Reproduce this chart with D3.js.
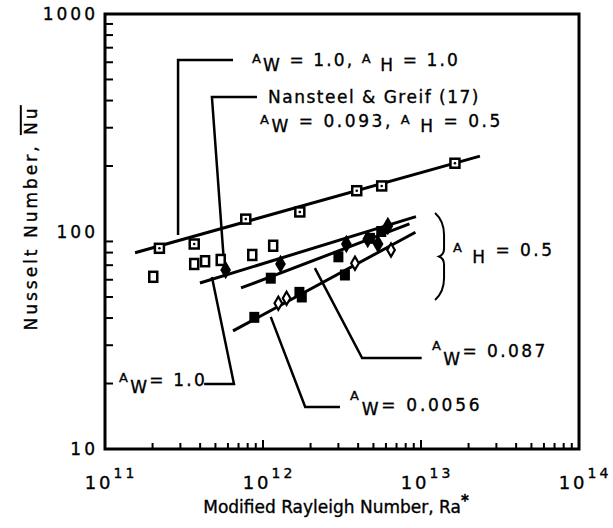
<!DOCTYPE html>
<html>
<head>
<meta charset="utf-8">
<script src="https://cdn.jsdelivr.net/npm/d3@7"></script>
<style>
  body { margin: 0; background: #fff; }
  svg text { font-family: "DejaVu Sans", sans-serif; fill: #000; stroke: #000; stroke-width: 0.35px; }
</style>
</head>
<body>
<svg class="chart"></svg>
<script>
// values (Ra*, Nu)
let topRa = [2.21e11, 3.67e11, 7.78e11, 1.71e12, 3.92e12, 5.64e12, 1.64e13];
let topNu = [83.7, 87.6, 114, 123, 154, 162, 206];

let openRa = [2.02e11, 3.67e11, 4.30e11, 5.40e11, 8.55e11, 1.16e12];
let openNu = [61.9, 70.9, 73.0, 74.0, 78.0, 86.0];

let nanRa = [5.8e11, 1.29e12, 3.37e12, 4.6e12, 5.35e12, 6.17e12];
let nanNu = [66.5, 70.9, 87.6, 92.4, 87.6, 106];

let sq087Ra = [1.12e12, 3.0e12, 4.75e12, 5.6e12];
let sq087Nu = [61, 76.5, 93, 100];

let sq0056Ra = [8.81e11, 1.70e12, 1.76e12, 3.3e12];
let sq0056Nu = [40.3, 52.5, 50, 63.1];

let dia0056Ra = [1.25e12, 1.41e12, 3.82e12, 6.46e12];
let dia0056Nu = [46.8, 49.3, 71.5, 82.2];

// correlation lines, end points
let fitRa = [[1.55e11, 2.36e13], [3.99e11, 9.29e12], [7.26e11, 8.45e12], [6.46e11, 9.22e12]];
let fitNu = [[79.9, 222], [58.0, 117], [55.0, 108.3], [34.9, 99.2]];

// leader lines for the labels, in data units
let leaders = [
  [[2.90e11, 96.4], [2.90e11, 614], [6.46e11, 614]],
  [[5.66e11, 72.4], [4.75e11, 415], [9.16e11, 415]],
  [[4.75e11, 61.8], [6.55e11, 19.9], [4.24e11, 19.9]],
  [[2.13e12, 67.9], [4.24e12, 26.2], [1.01e13, 26.2]],
  [[1.12e12, 40.5], [1.85e12, 15.6], [3.07e12, 15.6]]
];

let xTicks = [1e11, 1e12, 1e13, 1e14];
let xTickLabels = ['11', '12', '13', '14'];
let yTicks = [10, 100, 1000];

let W = 613, H = 528;
let x = d3.scaleLog().domain([1e11, 1e14]).range([105, 579]);
let y = d3.scaleLog().domain([10, 1000]).range([449, 14]);

let svg = d3.select('.chart').attr('width', W).attr('height', H);

// minor ticks
let xMinor = [], yMinor = [];
[1e11, 1e12, 1e13].forEach(d => { for (let k = 2; k <= 10; k++) xMinor.push(d * k); });
[10, 100].forEach(d => { for (let k = 2; k <= 9; k++) yMinor.push(d * k); });

svg.append('g').selectAll('line').data(xMinor).enter().append('line')
    .attr('x1', d => x(d)).attr('x2', d => x(d))
    .attr('y1', y(10)).attr('y2', d => y(10) - ([1e12, 1e13].includes(d) ? 9 : 6))
    .attr('stroke', '#000').attr('stroke-width', 2);

svg.append('g').selectAll('line').data(yMinor).enter().append('line')
    .attr('x1', x(1e11)).attr('x2', x(1e11) + 8)
    .attr('y1', d => y(d)).attr('y2', d => y(d))
    .attr('stroke', '#000').attr('stroke-width', 2);

// frame
svg.append('rect')
    .attr('x', x(1e11)).attr('y', y(1000))
    .attr('width', x(1e14) - x(1e11)).attr('height', y(10) - y(1000))
    .attr('fill', 'none').attr('stroke', '#000').attr('stroke-width', 3);

// tick labels
let xl = svg.append('g').selectAll('text').data(xTicks).enter().append('text')
    .attr('x', d => x(d) + 6).attr('y', 489)
    .attr('text-anchor', 'middle').style('font-size', '18px').style('letter-spacing', '3px');
xl.append('tspan').text('10');
xl.append('tspan').text((d, i) => xTickLabels[i]).attr('dy', -11).style('font-size', '14px');

svg.append('g').selectAll('text').data(yTicks).enter().append('text')
    .attr('x', 98).attr('y', d => y(d) + 6)
    .attr('text-anchor', 'end').style('font-size', '17px').style('letter-spacing', '3px')
    .text(d => d);

// axis titles
let xt = svg.append('text').attr('x', 336).attr('y', 513)
    .attr('text-anchor', 'middle').style('font-size', '17px');
xt.append('tspan').text('Modified Rayleigh Number, Ra');
xt.append('tspan').text('*').attr('dy', -7).style('font-size', '15px').style('font-weight', 'bold');

let yt = svg.append('text').attr('transform', 'translate(37,218) rotate(-90)')
    .attr('text-anchor', 'middle').style('font-size', '17px').style('letter-spacing', '3px');
yt.append('tspan').text('Nusselt Number, ');
yt.append('tspan').text('Nu').style('text-decoration', 'overline');

// fit lines
let line = d3.line().x(d => x(d[0])).y(d => y(d[1]));
svg.append('g').selectAll('path').data(fitRa.map((r, i) => [[r[0], fitNu[i][0]], [r[1], fitNu[i][1]]]))
  .enter().append('path')
    .attr('d', line).attr('fill', 'none').attr('stroke', '#000').attr('stroke-width', 3);

// leaders
svg.append('g').selectAll('path').data(leaders).enter().append('path')
    .attr('d', line).attr('fill', 'none').attr('stroke', '#000').attr('stroke-width', 2.5);

// brace next to A_H = 0.5
let bx = x(1.32e13), bt = y(121.6), bb = y(48.4), bm = (bt + bb) / 2;
svg.append('path')
    .attr('d', 'M' + (bx - 5) + ',' + bt + ' Q' + (bx + 4) + ',' + (bt + 8) + ' ' + (bx + 4) + ',' + (bt + 22)
        + ' L' + (bx + 4) + ',' + (bm - 8) + ' Q' + (bx + 4) + ',' + (bm - 2) + ' ' + (bx - 1) + ',' + bm
        + ' Q' + (bx + 4) + ',' + (bm + 2) + ' ' + (bx + 4) + ',' + (bm + 8)
        + ' L' + (bx + 4) + ',' + (bb - 22) + ' Q' + (bx + 4) + ',' + (bb - 8) + ' ' + (bx - 5) + ',' + bb)
    .attr('fill', 'none').attr('stroke', '#000').attr('stroke-width', 2);

// markers
let pts = (ra, nu) => ra.map((r, i) => [r, nu[i]]);

svg.append('g').selectAll('rect').data(pts(openRa, openNu)).enter().append('rect')
    .attr('x', d => x(d[0]) - 4).attr('y', d => y(d[1]) - 5)
    .attr('width', 8).attr('height', 10)
    .attr('fill', '#fff').attr('stroke', '#000').attr('stroke-width', 2.5);

let tp = svg.append('g').selectAll('g').data(pts(topRa, topNu)).enter().append('g')
    .attr('transform', d => 'translate(' + x(d[0]) + ',' + y(d[1]) + ')');
tp.append('rect').attr('x', -4.5).attr('y', -4.5).attr('width', 9).attr('height', 9)
    .attr('fill', '#fff').attr('stroke', '#000').attr('stroke-width', 2.5);
tp.append('circle').attr('r', 1.3).attr('fill', '#000');

svg.append('g').selectAll('path').data(pts(nanRa, nanNu)).enter().append('path')
    .attr('transform', d => 'translate(' + x(d[0]) + ',' + y(d[1]) + ')')
    .attr('d', d3.symbol(d3.symbolDiamond, 100)).attr('fill', '#000');

svg.append('g').selectAll('rect').data(pts(sq087Ra, sq087Nu).concat(pts(sq0056Ra, sq0056Nu))).enter().append('rect')
    .attr('x', d => x(d[0]) - 5).attr('y', d => y(d[1]) - 5.5)
    .attr('width', 10).attr('height', 11).attr('fill', '#000');

svg.append('g').selectAll('path').data(pts(dia0056Ra, dia0056Nu)).enter().append('path')
    .attr('transform', d => 'translate(' + x(d[0]) + ',' + y(d[1]) + ')')
    .attr('d', d3.symbol(d3.symbolDiamond, 50)).attr('fill', '#fff')
    .attr('stroke', '#000').attr('stroke-width', 2.2);

// labels: small raised A, lowered subscript, spread to the width seen in the figure
function label(x0, y0, width, parts) {
  let t = svg.append('text').attr('x', x0).attr('y', y0);
  parts.forEach(p => {
    t.append('tspan').attr('y', y0 + p[1])
      .style('font-size', p[2] + 'px').text(p[0]);
  });
  let n = t.text().length;
  let w = t.node().getComputedTextLength();
  t.style('letter-spacing', ((width - w) / n) + 'px');
  return t;
}

label(252, 66, 210, [['A', -3, 13], ['W', 5, 17], [' = 1.0,  ', 0, 17],
                     ['A', -3, 13], [' H', 5, 17], [' = 1.0', 0, 17]]);
label(268, 103, 212, [['Nansteel & Greif (17)', 0, 17]]);
label(260, 127, 248, [['A', -3, 13], ['W', 5, 17], [' =  0.093,  ', 0, 17],
                      ['A', -3, 13], [' H', 5, 17], [' = 0.5', 0, 17]]);
label(119, 386, 88, [['A', -4, 13], ['W', 7, 17], ['= 1.0', 0, 17]]);
label(432, 357, 118, [['A', -7, 13], ['W', 8, 17], ['=  0.087', 0, 17]]);
label(350, 411, 135, [['A', -11, 13], ['W', 4, 17], ['=  0.0056', 0, 17]]);
label(453, 256, 104, [['A', -4, 13], [' H', 7, 17], [' =  0.5', 0, 17]]);
</script>
</body>
</html>
